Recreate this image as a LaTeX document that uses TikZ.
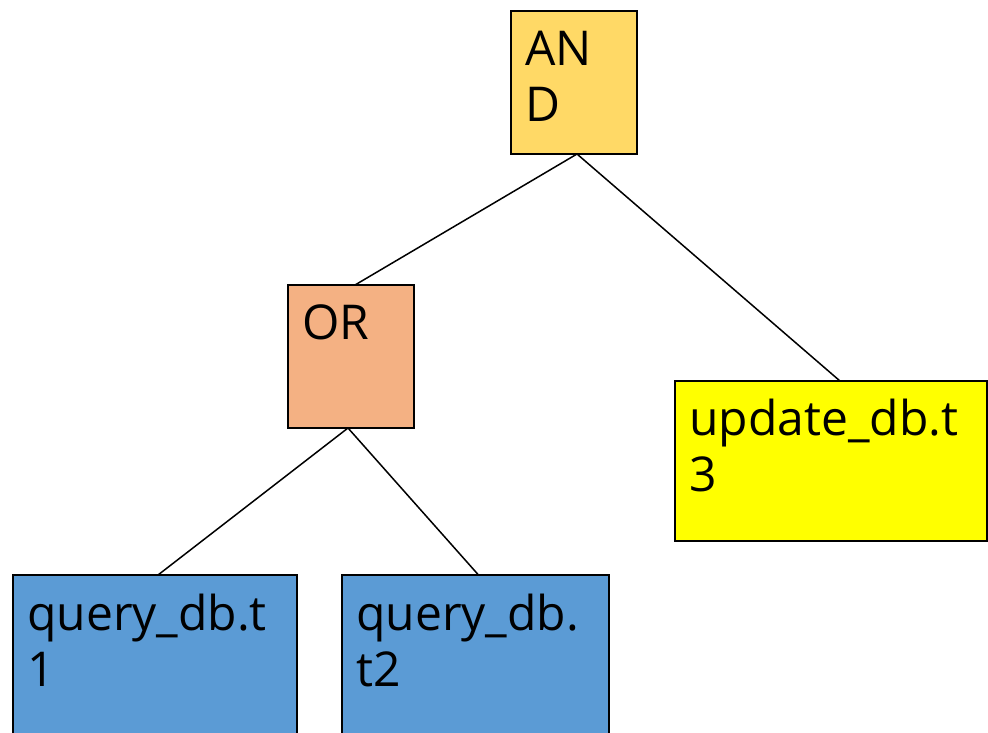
\documentclass[tikz,border=0pt]{standalone}
\usepackage{fontspec}
\setmainfont{Open Sans}
\begin{document}
\begin{tikzpicture}[x=1pt,y=-1pt,
  box/.style={draw=black,line width=1.5pt,minimum width=#1,inner sep=0pt,outer sep=0pt},
  lbl/.style={anchor=base west,inner sep=0pt,font=\fontsize{48}{56}\selectfont,align=left},
  edge/.style={draw=black,line width=1.5pt}]
\useasboundingbox (0,0) rectangle (988,732);
\node[box=126pt,minimum height=143pt,fill={rgb,255:red,255;green,217;blue,102}] (and) at (574,82.5) {};
\node[box=126pt,minimum height=143pt,fill={rgb,255:red,244;green,177;blue,131}] (or) at (351,356.5) {};
\node[box=312pt,minimum height=160pt,fill={rgb,255:red,255;green,255;blue,0}] (upd) at (831,461) {};
\node[box=284pt,minimum height=170pt,fill={rgb,255:red,91;green,155;blue,213}] (q1) at (155,660) {};
\node[box=267pt,minimum height=170pt,fill={rgb,255:red,91;green,155;blue,213}] (q2) at (475.5,660) {};
\node[lbl] (tand) at (525,121) {AN\\D};
\node[lbl] (tor) at (302,339) {OR};
\node[lbl] (tupd) at (689,491) {update\_db.t\\3};
\node[lbl] (tq1) at (27,686) {query\_db.t\\1};
\node[lbl] (tq2) at (356,686) {query\_db.\\t2};
\draw[edge] ([xshift=3pt]and.south) -- ([xshift=4pt]or.north);
\draw[edge] ([xshift=3pt]and.south) -- ([xshift=9pt]upd.north);
\draw[edge] ([xshift=-3pt]or.south) -- ([xshift=3pt]q1.north);
\draw[edge] ([xshift=-3pt]or.south) -- ([xshift=3pt]q2.north);
\end{tikzpicture}
\end{document}
